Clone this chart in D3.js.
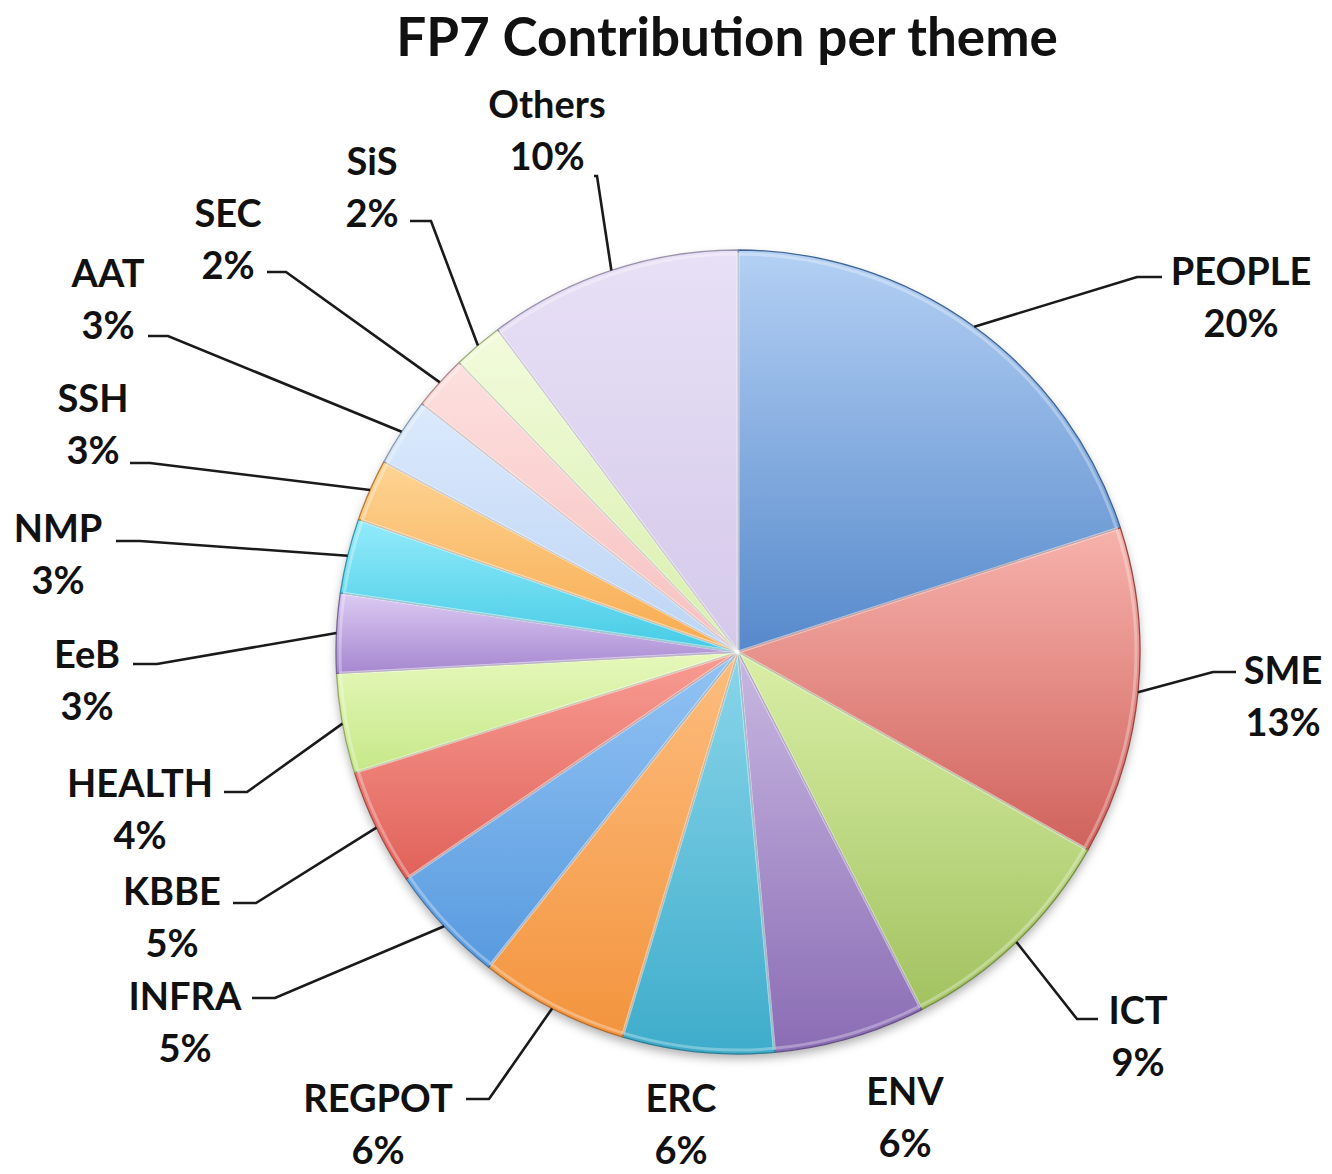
<!DOCTYPE html>
<html>
<head>
<meta charset="utf-8">
<script src="https://cdn.jsdelivr.net/npm/d3@7"></script>
<style>
    body { margin: 0; background: #fff; }
    text { font-family: Lato, "Open Sans", sans-serif; font-weight: bold; fill: #111; }
</style>
</head>
<body>
<div id="pieChart"></div>
<script>
const width = 1332;
const height = 1174;
const title = 'FP7 Contribution per theme';

// data, clockwise from 12 o'clock
const themes = ['PEOPLE', 'SME', 'ICT', 'ENV', 'ERC', 'REGPOT', 'INFRA', 'KBBE',
    'HEALTH', 'EeB', 'NMP', 'SSH', 'AAT', 'SEC', 'SiS', 'Others'];
const shares = [20.0, 13.2, 9.25, 6.1, 6.1, 6.0, 4.8, 4.7, 4.0, 3.2, 3.0, 2.5, 2.75, 2.2, 2.0, 10.2];

// fill colours: light (top) and dark (bottom) of each slice
const lightColors = ['#b4d0f4', '#f7b2ac', '#d9efa6', '#c9b8e2', '#8ad6ea', '#fdbd7e', '#93c4f4', '#f89c93',
    '#e6f8bb', '#dccbf3', '#93ebfa', '#fdd493', '#dbe9fc', '#fde0df', '#f2fbdc', '#e8e0f6'];
const darkColors = ['#5689cb', '#d0625c', '#a2c260', '#8a6cb4', '#3eaccb', '#f3943e', '#589adf', '#e0625a',
    '#c6e888', '#a687d0', '#45cbe5', '#f8aa4e', '#bcd4f5', '#f6c0bf', '#d8efac', '#d4c9ea'];

// hand placed labels: name centre, leader elbow and leader end (null = no leader)
const labelLayout = [
    { x: 1241, y: 270, elbow: [1137, 277], end: [1162, 277] },
    { x: 1283, y: 669, elbow: [1213, 672], end: [1236, 672] },
    { x: 1138, y: 1009, elbow: [1077, 1019], end: [1098, 1019] },
    { x: 905, y: 1090, elbow: null, end: null },
    { x: 681, y: 1097, elbow: null, end: null },
    { x: 378, y: 1097, elbow: [489, 1099], end: [466, 1099] },
    { x: 185, y: 995, elbow: [275, 998], end: [252, 998] },
    { x: 172, y: 890, elbow: [256, 903], end: [233, 903] },
    { x: 140, y: 782, elbow: [247, 792], end: [224, 792] },
    { x: 87, y: 653, elbow: [157, 664], end: [133, 664] },
    { x: 58, y: 527, elbow: [140, 541], end: [116, 541] },
    { x: 93, y: 397, elbow: [150, 463], end: [130, 463] },
    { x: 108, y: 272, elbow: [168, 336], end: [148, 336] },
    { x: 228, y: 212, elbow: [286, 272], end: [267, 272] },
    { x: 372, y: 160, elbow: [431, 221], end: [410, 221] },
    { x: 547, y: 103, elbow: [597, 176], end: [594, 176] }
];

const cx = 738;
const cy = 652;
const radius = 402;
const lineGap = 52;

function pieChartBuilder() {
    const svg = d3.select('#pieChart')
        .append('svg')
        .attr('width', width)
        .attr('height', height);

    const defs = svg.append('defs');

    const shadow = defs.append('filter')
        .attr('id', 'shadow')
        .attr('x', '-10%').attr('y', '-10%')
        .attr('width', '120%').attr('height', '125%');
    shadow.append('feDropShadow')
        .attr('dx', 0).attr('dy', 5)
        .attr('stdDeviation', 5)
        .attr('flood-color', '#000')
        .attr('flood-opacity', 0.3);

    themes.forEach((t, i) => {
        const grad = defs.append('linearGradient')
            .attr('id', 'grad' + i)
            .attr('x1', 0).attr('y1', 0)
            .attr('x2', 0).attr('y2', 1);
        grad.append('stop').attr('offset', '0%').attr('stop-color', lightColors[i]);
        grad.append('stop').attr('offset', '100%').attr('stop-color', darkColors[i]);
    });

    svg.append('text')
        .attr('x', 727)
        .attr('y', 35)
        .attr('text-anchor', 'middle')
        .attr('dominant-baseline', 'central')
        .style('font-size', '53px')
        .text(title);

    const pie = d3.pie().sort(null).value(d => d);
    const arcs = pie(shares);

    const arc = d3.arc().innerRadius(0).outerRadius(radius);
    const rimArc = d3.arc().innerRadius(radius).outerRadius(radius);

    const pieGroup = svg.append('g')
        .attr('transform', `translate(${cx}, ${cy})`);

    pieGroup.append('circle')
        .attr('r', radius)
        .attr('fill', '#fff')
        .attr('filter', 'url(#shadow)');

    pieGroup.selectAll('path.slice')
        .data(arcs)
        .enter()
        .append('path')
        .attr('class', 'slice')
        .attr('d', arc)
        .attr('fill', (d, i) => `url(#grad${i})`)
        .attr('stroke', (d, i) => d3.color(darkColors[i]).darker(0.9))
        .attr('stroke-width', 1.3)
        .attr('stroke-linejoin', 'round');

    // soft bevel highlight
    pieGroup.selectAll('path.bevel')
        .data(arcs)
        .enter()
        .append('path')
        .attr('class', 'bevel')
        .attr('d', d3.arc().innerRadius(0).outerRadius(radius - 4))
        .attr('fill', 'none')
        .attr('stroke', '#fff')
        .attr('stroke-opacity', 0.3)
        .attr('stroke-width', 3);

    // leader lines
    arcs.forEach((d, i) => {
        const lay = labelLayout[i];
        if (!lay.elbow) return;
        const start = rimArc.centroid(d);
        const pts = [[start[0] + cx, start[1] + cy], lay.elbow, lay.end];
        svg.append('path')
            .attr('d', d3.line()(pts))
            .attr('fill', 'none')
            .attr('stroke', '#1a1a1a')
            .attr('stroke-width', 2.6);
    });

    // labels
    const labels = svg.selectAll('g.label')
        .data(arcs)
        .enter()
        .append('g')
        .attr('class', 'label');

    labels.append('text')
        .attr('x', (d, i) => labelLayout[i].x)
        .attr('y', (d, i) => labelLayout[i].y)
        .attr('text-anchor', 'middle')
        .attr('dominant-baseline', 'central')
        .style('font-size', '38px')
        .text((d, i) => themes[i]);

    labels.append('text')
        .attr('x', (d, i) => labelLayout[i].x)
        .attr('y', (d, i) => labelLayout[i].y + lineGap)
        .attr('text-anchor', 'middle')
        .attr('dominant-baseline', 'central')
        .style('font-size', '38px')
        .text((d, i) => Math.round(shares[i]) + '%');
}

document.addEventListener('DOMContentLoaded', () => pieChartBuilder());
</script>
</body>
</html>
